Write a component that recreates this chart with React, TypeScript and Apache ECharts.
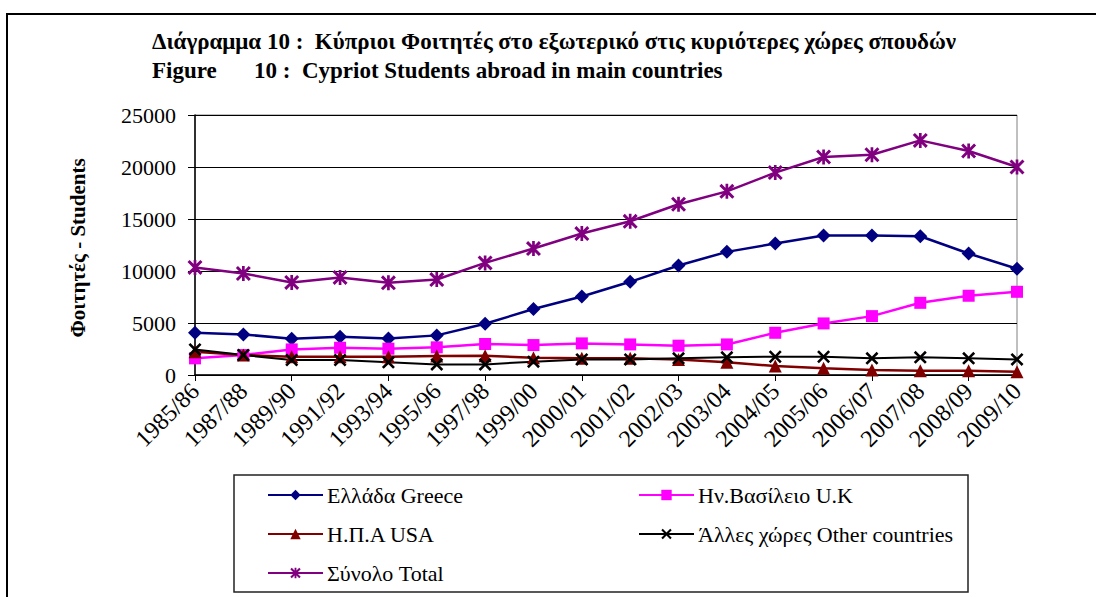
import React, { useEffect, useRef } from "react";
import * as echarts from "echarts";

const categories = [
  "1985/86", "1987/88", "1989/90", "1991/92", "1993/94", "1995/96", "1997/98", "1999/00", "2000/01",
  "2001/02", "2002/03", "2003/04", "2004/05", "2005/06", "2006/07", "2007/08", "2008/09", "2009/10",
];
const greece = [4060, 3900, 3490, 3680, 3520, 3810, 4930, 6340, 7550, 8960, 10530, 11840, 12640, 13410, 13410, 13340, 11680, 10210];
const uk = [1600, 1920, 2460, 2620, 2530, 2660, 2980, 2880, 3040, 2940, 2820, 2940, 4060, 4960, 5660, 6940, 7620, 8000];
const usa = [2240, 1920, 1760, 1760, 1760, 1820, 1850, 1660, 1600, 1600, 1500, 1220, 860, 640, 480, 420, 420, 320];
const other = [2460, 1920, 1440, 1440, 1220, 1020, 1020, 1280, 1500, 1500, 1600, 1700, 1760, 1760, 1600, 1700, 1600, 1500];
const total = [10340, 9760, 8900, 9380, 8860, 9180, 10780, 12160, 13600, 14780, 16420, 17660, 19460, 20960, 21180, 22560, 21540, 20000];

const seriesNames = [
  "Ελλάδα Greece",
  "Ην.Βασίλειο U.K",
  "Η.Π.Α USA",
  "Άλλες χώρες Other countries",
  "Σύνολο Total",
];
const yTickLabels = [0, 5000, 10000, 15000, 20000, 25000];
const yTicks = { min: 0, max: 25000, interval: 5000 };
const titleLine1 = "Διάγραμμα 10 :  Κύπριοι Φοιτητές στο εξωτερικό στις κυριότερες χώρες σπουδών";
const titleLine2a = "Figure";
const titleLine2b = "10 :  Cypriot Students abroad in main countries";
const yTitle = "Φοιτητές - Students";

const FAMILY = "Liberation Serif";
const TITLE_FONT = "bold 23px Liberation Serif";
const X_FONT = "24px Liberation Serif";
const Y_FONT = "22px Liberation Serif";
const LEGEND_FONT = "22px Liberation Serif";
const X_PATH = "path://M0,1.4L1.4,0L5,3.6L8.6,0L10,1.4L6.4,5L10,8.6L8.6,10L5,6.4L1.4,10L0,8.6L3.6,5Z";
const STAR_PATH =
  "path://M0,1.4L1.4,0L5,3.6L8.6,0L10,1.4L6.4,5L10,8.6L8.6,10L5,6.4L1.4,10L0,8.6L3.6,5Z M4.1,0L5.9,0L5.9,10L4.1,10Z";

const LEGEND_TOP = 484;
const LEGEND_GAP = 17;
const LEGEND_TEXT_H = 22;
const LEGEND_COL1 = 267;
const LEGEND_COL2 = 638;
const LEGEND_ICON_W = 55;

export default function App() {
  const ref = useRef<HTMLDivElement>(null);
  useEffect(() => {
    if (!ref.current) return;
    const el = ref.current;
    const chart = echarts.init(el, null, { renderer: "svg" });
    const mk = (name: string, data: number[], color: string, symbol: string, size: number, lw: number) => ({
      name,
      type: "line",
      data,
      symbol,
      symbolSize: size,
      lineStyle: { color, width: lw },
      itemStyle: { color },
    });
    const legendBase = {
      orient: "vertical",
      top: LEGEND_TOP,
      padding: 0,
      itemWidth: LEGEND_ICON_W,
      itemHeight: 13,
      itemGap: LEGEND_GAP,
      formatter: () => " ",
      textStyle: { fontSize: 22, color: "#000", fontFamily: FAMILY, lineHeight: LEGEND_TEXT_H },
    };
    chart.setOption({
      animation: false,
      backgroundColor: "#fff",
      textStyle: { fontFamily: FAMILY },
      grid: {
        left: 195,
        right: 79,
        top: 115,
        bottom: 222,
        show: true,
        borderColor: "#808080",
        borderWidth: 1,
        containLabel: false,
      },
      xAxis: {
        type: "category",
        data: categories,
        boundaryGap: false,
        axisLine: { lineStyle: { color: "#000", width: 1.5 } },
        axisTick: { show: true, length: 6, inside: false, lineStyle: { color: "#000" } },
        axisLabel: { show: false },
        splitLine: { show: false },
      },
      yAxis: {
        type: "value",
        min: yTicks.min,
        max: yTicks.max,
        interval: yTicks.interval,
        axisLine: { show: true, lineStyle: { color: "#000", width: 1.5 } },
        axisTick: { show: true, length: 7, lineStyle: { color: "#000" } },
        axisLabel: { show: false },
        splitLine: { show: true, lineStyle: { color: "#000", width: 1 } },
      },
      legend: [
        { ...legendBase, data: [seriesNames[0], seriesNames[2], seriesNames[4]], left: LEGEND_COL1 },
        { ...legendBase, data: [seriesNames[1], seriesNames[3]], left: LEGEND_COL2 },
      ],
      series: [
        mk(seriesNames[0], greece, "#000080", "diamond", 14, 2.5),
        mk(seriesNames[1], uk, "#FF00FF", "rect", 12, 2.5),
        mk(seriesNames[2], usa, "#800000", "triangle", 13, 2.5),
        mk(seriesNames[3], other, "#000000", X_PATH, 13, 2),
        mk(seriesNames[4], total, "#800080", STAR_PATH, 15, 2.5),
      ],
    });

    const xLabels = categories.map((c, i) => {
      const p = chart.convertToPixel({ gridIndex: 0 }, [i, 0]) as number[];
      return {
        type: "text",
        x: p[0],
        y: p[1] + 12,
        rotation: Math.PI / 4,
        silent: true,
        style: { text: c, font: X_FONT, fill: "#000", textAlign: "right", textVerticalAlign: "middle" },
      };
    });
    const yLabels = yTickLabels.map((v) => {
      const p = chart.convertToPixel({ gridIndex: 0 }, [0, v]) as number[];
      return {
        type: "text",
        x: p[0] - 19,
        y: p[1],
        silent: true,
        style: { text: String(v), font: Y_FONT, fill: "#000", textAlign: "right", textVerticalAlign: "middle" },
      };
    });
    const rowY = (r: number) => LEGEND_TOP + LEGEND_TEXT_H / 2 + r * (LEGEND_TEXT_H + LEGEND_GAP);
    const legendCols = [
      { names: [seriesNames[0], seriesNames[2], seriesNames[4]], left: LEGEND_COL1 },
      { names: [seriesNames[1], seriesNames[3]], left: LEGEND_COL2 },
    ];
    const legendLabels = legendCols.flatMap((col) =>
      col.names.map((n, r) => ({
        type: "text",
        x: col.left + LEGEND_ICON_W + 5,
        y: rowY(r),
        silent: true,
        style: { text: n, font: LEGEND_FONT, fill: "#000", textVerticalAlign: "middle" },
      }))
    );

    chart.setOption({
      graphic: [
        {
          type: "rect",
          shape: { x: 7, y: 14, width: 1100, height: 620 },
          style: { fill: "none", stroke: "#000", lineWidth: 2 },
          silent: true,
        },
        {
          type: "rect",
          shape: { x: 234, y: 475, width: 734, height: 117 },
          style: { fill: "none", stroke: "#222", lineWidth: 1.5 },
          silent: true,
        },
        {
          type: "text",
          x: 152,
          y: 41,
          style: { text: titleLine1, font: TITLE_FONT, fill: "#000", textVerticalAlign: "middle" },
        },
        {
          type: "text",
          x: 152,
          y: 70,
          style: { text: titleLine2a, font: TITLE_FONT, fill: "#000", textVerticalAlign: "middle" },
        },
        {
          type: "text",
          x: 254,
          y: 70,
          style: { text: titleLine2b, font: TITLE_FONT, fill: "#000", textVerticalAlign: "middle" },
        },
        {
          type: "text",
          x: 78,
          y: 248,
          rotation: Math.PI / 2,
          style: {
            text: yTitle,
            font: "bold 21px Liberation Serif",
            fill: "#000",
            textAlign: "center",
            textVerticalAlign: "middle",
          },
        },
        ...xLabels,
        ...yLabels,
        ...legendLabels,
      ],
    });
    return () => chart.dispose();
  }, []);
  return <div ref={ref} style={{ width: 1096, height: 597, position: "absolute", left: 0, top: 0 }} />;
}
